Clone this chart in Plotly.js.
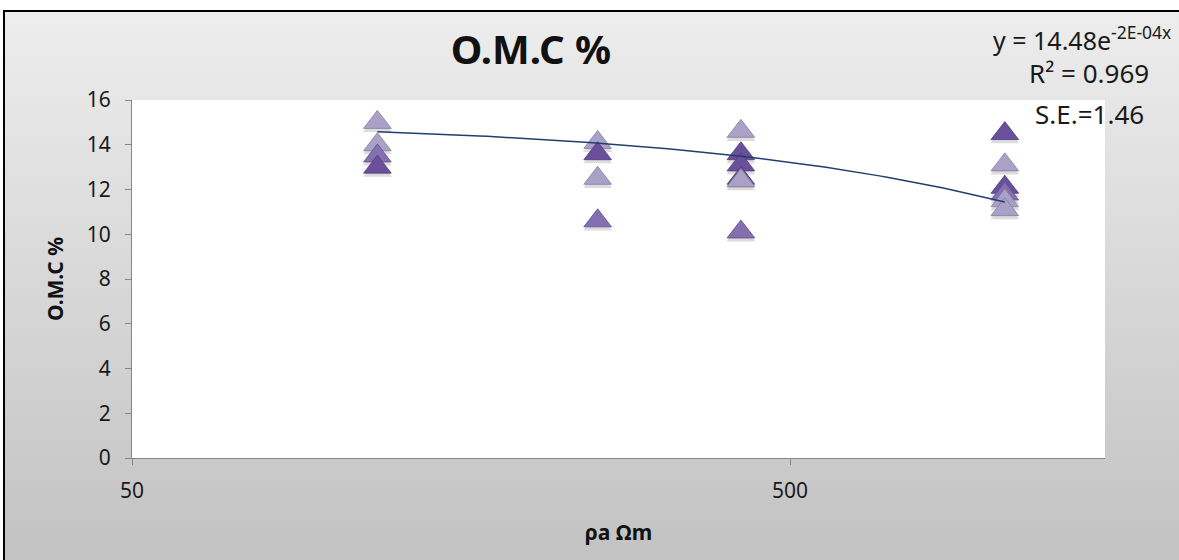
<!DOCTYPE html>
<html>
<head>
<meta charset="utf-8">
<script src="https://cdn.plot.ly/plotly-3.0.1.min.js"></script>
<style>
  html, body { margin: 0; padding: 0; background: #fff; overflow: hidden; }
  #frame {
    position: absolute; left: 3px; top: 10px; width: 1200px; height: 600px;
    border-left: 2px solid #000; border-top: 2px solid #000;
    background: linear-gradient(to bottom, #ededed 0px, #c2c2c2 550px);
  }
  #chart { position: absolute; left: 0; top: 0; width: 1179px; height: 560px; }
</style>
</head>
<body>
<div id="frame"></div>
<div id="chart"></div>
<script>
// Apparent resistivity (Ωm) against organic matter content (%), three sample groups
const darkRho  = [118, 255, 421, 421, 421, 1060, 1060];
const darkOmc  = [13.0, 13.6, 13.6, 13.1, 12.5, 14.5, 12.1];

const midRho   = [118, 255, 421, 1060];
const midOmc   = [13.5, 10.6, 10.1, 11.8];

const lightRho = [118, 118, 255, 255, 421, 421, 1060, 1060, 1060];
const lightOmc = [15.0, 14.0, 14.1, 12.5, 14.6, 12.4, 13.1, 11.5, 11.1];

// Exponential trend y = A·e^(−B·x)
const TREND_A = 15.03;
const TREND_B = 2.57e-4;

const xTickVals = [50, 500];
const xTickText = ['50', '500'];

const FONT = 'Noto Sans, Open Sans, sans-serif';
const palette = { dark: '#6a4f9b', mid: '#8470b0', light: '#aaa1c6' };
const edge    = { dark: '#4f3a7a', mid: '#614d8c', light: '#857ba3' };

// merge the groups; lower readings are stacked over higher ones
const pts = [];
const addGroup = (xs, ys, g) => xs.forEach((x, i) => pts.push({ x, y: ys[i], g }));
addGroup(darkRho, darkOmc, 'dark');
addGroup(midRho, midOmc, 'mid');
addGroup(lightRho, lightOmc, 'light');
pts.sort((a, b) => b.y - a.y);

const px = pts.map(p => p.x);
const py = pts.map(p => p.y);

const shadow = {
  type: 'scatter', mode: 'markers', x: px, y: py.map(v => v - 0.15),
  marker: { symbol: 'triangle-up', size: 25, color: 'rgba(40,40,40,0.16)', line: { width: 0 } },
  hoverinfo: 'skip', showlegend: false
};

const markers = {
  type: 'scatter', mode: 'markers', x: px, y: py,
  marker: {
    symbol: 'triangle-up', size: 24,
    color: pts.map(p => palette[p.g]),
    line: { width: 0.8, color: pts.map(p => edge[p.g]) }
  },
  showlegend: false
};

// trend curve sampled evenly on the log axis between the first and last group
const allRho = darkRho.concat(midRho, lightRho);
const rMin = Math.min(...allRho), rMax = Math.max(...allRho);
const tx = [], ty = [];
for (let i = 0; i <= 80; i++) {
  const x = Math.pow(10, Math.log10(rMin) + (Math.log10(rMax) - Math.log10(rMin)) * i / 80);
  tx.push(x);
  ty.push(TREND_A * Math.exp(-TREND_B * x));
}
const trend = {
  type: 'scatter', mode: 'lines', x: tx, y: ty,
  line: { color: '#1f3f6e', width: 1.5 }, hoverinfo: 'skip', showlegend: false
};

const axisColor = '#868686';
const layout = {
  width: 1179, height: 560,
  margin: { l: 132, r: 74, t: 100, b: 102 },
  paper_bgcolor: 'rgba(0,0,0,0)',
  plot_bgcolor: '#ffffff',
  font: { family: FONT, color: '#1a1a1a' },
  title: {
    text: 'O.M.C %',
    font: { family: FONT, size: 40, weight: 700, color: '#111' },
    xref: 'container', yref: 'container',
    x: 531 / 1179, y: 1 - 50 / 560, xanchor: 'center', yanchor: 'middle'
  },
  xaxis: {
    type: 'log',
    range: [Math.log10(50), Math.log10(1505)],
    tickmode: 'array', tickvals: xTickVals, ticktext: xTickText,
    ticks: 'outside', ticklen: 6, tickcolor: axisColor, tickwidth: 1,
    ticklabelstandoff: 8,
    showline: true, linecolor: axisColor, linewidth: 1,
    showgrid: false, zeroline: false,
    tickfont: { family: FONT, size: 21, color: '#1a1a1a' },
    title: { text: 'ρa Ωm', font: { family: FONT, size: 21, weight: 700, color: '#111' }, standoff: 22 }
  },
  yaxis: {
    range: [0, 16], dtick: 2, tick0: 0,
    ticks: 'outside', ticklen: 6, tickcolor: axisColor, tickwidth: 1,
    ticklabelstandoff: 10,
    showline: true, linecolor: axisColor, linewidth: 1,
    showgrid: false, zeroline: false,
    tickfont: { family: FONT, size: 21, color: '#1a1a1a' },
    title: { text: 'O.M.C %', font: { family: FONT, size: 21, weight: 700, color: '#111' }, standoff: 17 }
  },
  annotations: [
    {
      xref: 'paper', yref: 'paper', x: (991 - 132) / 973, y: (458 - 38) / 358,
      xanchor: 'left', yanchor: 'middle', showarrow: false,
      text: 'y = 14.48e<sup>-2E-04x</sup>',
      font: { family: FONT, size: 25, color: '#1a1a1a' }
    },
    {
      xref: 'paper', yref: 'paper', x: (1089 - 132) / 973, y: (458 - 73) / 358,
      xanchor: 'center', yanchor: 'middle', showarrow: false,
      text: 'R² = 0.969',
      font: { family: FONT, size: 26, color: '#1a1a1a' }
    },
    {
      xref: 'paper', yref: 'paper', x: (1089 - 132) / 973, y: (458 - 114) / 358,
      xanchor: 'center', yanchor: 'middle', showarrow: false,
      text: 'S.E.=1.46',
      font: { family: FONT, size: 26, color: '#1a1a1a' }
    }
  ]
};

Plotly.newPlot('chart', [shadow, markers, trend], layout, { staticPlot: true, displayModeBar: false });
</script>
</body>
</html>
